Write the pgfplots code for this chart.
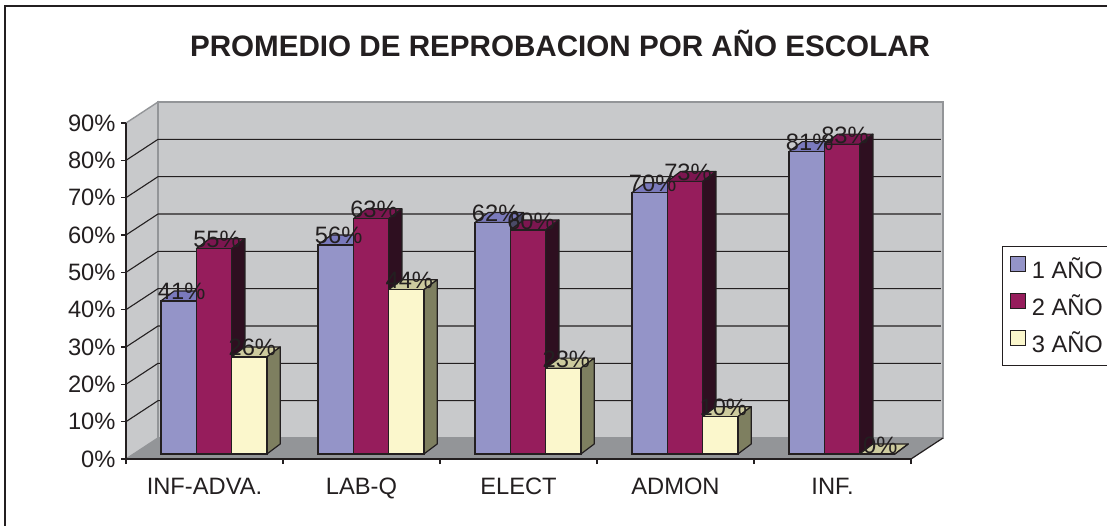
\documentclass[border=0pt]{standalone}
\usepackage{pgfplots}
\usepackage{pgfplotstable}
\usepackage{fontspec}
\setmainfont{Liberation Sans}
\pgfplotsset{compat=1.18}
\definecolor{edge}{HTML}{231F20}
\definecolor{wall}{HTML}{C8C9CB}
\definecolor{floorc}{HTML}{939598}
\definecolor{peri}{HTML}{9494C8}
\definecolor{peritop}{HTML}{7A7ABC}
\definecolor{periside}{HTML}{4A4A66}
\definecolor{maro}{HTML}{961D5C}
\definecolor{marotop}{HTML}{7C1650}
\definecolor{maroside}{HTML}{2E0F20}
\definecolor{crem}{HTML}{FBF7CC}
\definecolor{cremtop}{HTML}{CDCB9E}
\definecolor{cremside}{HTML}{7E7F60}
\newcommand{\lab}{\fontsize{23.7}{26}\selectfont}
\pgfplotstableread{
g a b c
0 41 55 26
1 56 63 44
2 62 60 23
3 70 73 10
4 81 83 0
}\datos
% bar depth faces: group, series, value, top colour, side colour
\newcommand{\caja}[5]{%
  \pgfmathsetmacro\xl{#1+(-43.5+35.3*#2)/157}%
  \pgfmathsetmacro\xr{\xl+35.3/157}%
  \pgfmathsetmacro\xL{\xl+13.3/157}%
  \pgfmathsetmacro\xR{\xr+13.3/157}%
  \pgfmathsetmacro\yt{#3+1.34}%
  \pgfmathsetmacro\yT{\yt+2.68}%
  \addplot[forget plot,mark=none,fill=#4,draw=edge,line width=1.2pt,line join=round] coordinates {(\xl,\yt) (\xr,\yt) (\xR,\yT) (\xL,\yT) (\xl,\yt)};
  \addplot[forget plot,mark=none,fill=#5,draw=edge,line width=1.2pt,line join=round] coordinates {(\xr,\yt) (\xR,\yT) (\xR,4.02) (\xr,1.34) (\xr,\yt)};
}
\newcommand{\rejilla}[1]{%
  \pgfmathsetmacro\yg{#1+5.625}%
  \addplot[forget plot,mark=none,draw=edge,line width=1.1pt] coordinates {(-0.5,#1) (-0.2962,\yg) (4.69,\yg)};
}
\pgfplotsset{etiqueta/.style={forget plot,ybar,bar width=35.3pt,bar shift=0pt,xshift=#1,yshift=5pt,draw=none,fill=none,point meta=y,
  nodes near coords={\pgfmathprintnumber{\pgfplotspointmeta}\%},
  nodes near coords align={anchor=base},
  every node near coord/.style={font=\lab,text=edge,anchor=base,inner sep=0pt,xshift=3pt,yshift=1pt}}}
\begin{document}
\begin{tikzpicture}
\path[use as bounding box] (-126pt,-66pt) rectangle (981pt,459pt);
\draw[edge,line width=1.3pt] (-121pt,-80pt) -- (-121pt,453pt) -- (995pt,453pt);
\begin{axis}[
  scale only axis, width=785pt, height=336pt,
  xmin=-0.5, xmax=4.5, ymin=0, ymax=90,
  clip=false, axis on top,
  axis x line*=bottom, axis y line*=left,
  axis line style={-,edge,line width=1.3pt},
  tick style={edge,line width=1.2pt},
  tick align=outside,
  major tick length=5pt, minor tick length=5pt,
  xtick={0,1,2,3,4},
  xticklabels={INF-ADVA.,LAB-Q,ELECT,ADMON,INF.},
  minor xtick={-0.5,0.5,1.5,2.5,3.5,4.5},
  x tick style={draw=none},
  minor x tick style={draw=edge,line width=1.2pt},
  ytick={0,10,...,90},
  yticklabel={\pgfmathprintnumber{\tick}\%},
  /pgf/number format/assume math mode=true,
  ticklabel style={font=\lab,text=edge},
  y tick label style={xshift=-2pt},
  x tick label style={yshift=-9.5pt,text height=17pt,text depth=5pt},
  title={\bfseries PROMEDIO DE REPROBACION POR AÑO ESCOLAR},
  title style={font=\fontsize{29.6}{32}\selectfont,text=edge,at={(0.553,1.22)},anchor=center},
  legend style={at={(876pt,213pt)},anchor=north west,draw=edge,line width=1.2pt,font=\lab,text=edge,
    inner xsep=7pt,inner ysep=9.5pt,row sep=10.5pt,legend cell align=left,fill=white,nodes={inner xsep=6pt}},
  legend image code/.code={\draw[#1,line width=1.2pt] (0pt,-7.5pt) rectangle (15pt,7.5pt);},
]
% walls and floor
\addplot[forget plot,mark=none,fill=wall,draw=floorc,line width=1.4pt] coordinates {(-0.5,0) (-0.2962,5.625) (-0.2962,95.625) (-0.5,90) (-0.5,0)};
\addplot[forget plot,mark=none,fill=wall,draw=floorc,line width=1.4pt] coordinates {(-0.2962,5.625) (4.7038,5.625) (4.7038,95.625) (-0.2962,95.625) (-0.2962,5.625)};
\addplot[forget plot,mark=none,fill=floorc,draw=none] coordinates {(-0.5,0) (-0.2962,5.625) (4.7038,5.625) (4.5,0) (-0.5,0)};
\addplot[forget plot,mark=none,draw=edge,line width=1.2pt] coordinates {(4.5,0) (4.7038,5.625)};
\rejilla{10}\rejilla{20}\rejilla{30}\rejilla{40}\rejilla{50}\rejilla{60}\rejilla{70}\rejilla{80}
% series 1
\caja{0}{0}{41}{peritop}{periside}\caja{1}{0}{56}{peritop}{periside}\caja{2}{0}{62}{peritop}{periside}\caja{3}{0}{70}{peritop}{periside}\caja{4}{0}{81}{peritop}{periside}
\addplot[ybar,bar width=35.3pt,bar shift=-25.8pt,yshift=5pt,fill=peri,draw=edge,line width=1.2pt] table[x=g,y=a] {\datos};
\addlegendentry{1 AÑO}
% series 2
\caja{0}{1}{55}{marotop}{maroside}\caja{1}{1}{63}{marotop}{maroside}\caja{2}{1}{60}{marotop}{maroside}\caja{3}{1}{73}{marotop}{maroside}\caja{4}{1}{83}{marotop}{maroside}
\addplot[ybar,bar width=35.3pt,bar shift=9.5pt,yshift=5pt,fill=maro,draw=edge,line width=1.2pt] table[x=g,y=b] {\datos};
\addlegendentry{2 AÑO}
% series 3
\caja{0}{2}{26}{cremtop}{cremside}\caja{1}{2}{44}{cremtop}{cremside}\caja{2}{2}{23}{cremtop}{cremside}\caja{3}{2}{10}{cremtop}{cremside}\caja{4}{2}{0}{cremtop}{cremside}
\addplot[ybar,bar width=35.3pt,bar shift=44.8pt,yshift=5pt,fill=crem,draw=edge,line width=1.2pt] table[x=g,y=c] {\datos};
\addlegendentry{3 AÑO}
% value labels
\addplot[etiqueta=-25.8pt] table[x=g,y=a] {\datos};
\addplot[etiqueta=9.5pt] table[x=g,y=b] {\datos};
\addplot[etiqueta=44.8pt] table[x=g,y=c] {\datos};
\end{axis}
\end{tikzpicture}
\end{document}
